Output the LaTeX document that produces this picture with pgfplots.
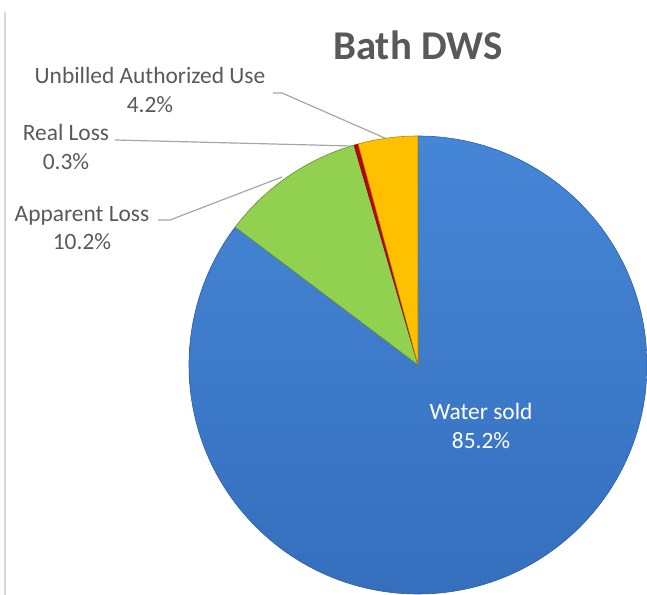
\documentclass[border=0pt]{standalone}
\usepackage{fontspec}
\setmainfont{Carlito}
\usepackage{pgfplots}
\usepackage{pgfplotstable}
\pgfplotsset{compat=1.18}

\definecolor{textgray}{HTML}{595959}
\definecolor{leadgray}{HTML}{A6A6A6}
\definecolor{framegray}{HTML}{D9D9D9}
\definecolor{blueT}{HTML}{4686D6}
\definecolor{blueB}{HTML}{356FBE}
\definecolor{greenc}{HTML}{92D050}
\definecolor{redc}{HTML}{C00000}
\definecolor{yellowc}{HTML}{FFC000}

% shares in clockwise order from 12 o'clock
\pgfplotstableread{
label     value
Water     85.2
Apparent  10.2
Real      0.3
Unbilled  4.2
}\piedata

\pgfplotstablegetelem{0}{value}\of\piedata \let\vA\pgfplotsretval
\pgfplotstablegetelem{1}{value}\of\piedata \let\vB\pgfplotsretval
\pgfplotstablegetelem{2}{value}\of\piedata \let\vC\pgfplotsretval
\pgfplotstablegetelem{3}{value}\of\piedata \let\vD\pgfplotsretval
\pgfmathsetmacro\tot{\vA+\vB+\vC+\vD}
\pgfmathsetmacro\aA{90}
\pgfmathsetmacro\aB{\aA-360*(\vA/\tot)}
\pgfmathsetmacro\aC{\aB-360*(\vB/\tot)}
\pgfmathsetmacro\aD{\aC-360*(\vC/\tot)}
\pgfmathsetmacro\aE{\aD-360*(\vD/\tot)}

\begin{document}
\begin{tikzpicture}
  \begin{axis}[
    scale only axis,
    width=647bp, height=595bp,
    xmin=0, xmax=647, ymin=0, ymax=595,
    hide axis,
    anchor=south west,
    at={(0,0)},
    ]
    % frame line on the left
    \draw[framegray, line width=1.2bp] (axis cs:5,0) -- (axis cs:5,583);

    % slices
    \shade[top color=blueT, bottom color=blueB, draw=blueB!85!black, line width=0.6bp]
      (axis cs:418,230) -- ++(\aA:229bp) arc[start angle=\aA, end angle=\aB, radius=229bp] -- cycle;
    \fill[greenc, draw=greenc!70!black, line width=0.6bp]
      (axis cs:418,230) -- ++(\aB:229bp) arc[start angle=\aB, end angle=\aC, radius=229bp] -- cycle;
    \fill[redc, draw=redc!70!black, line width=0.4bp]
      (axis cs:418,230) -- ++(\aC:229bp) arc[start angle=\aC, end angle=\aD, radius=229bp] -- cycle;
    \fill[yellowc, draw=yellowc!70!black, line width=0.6bp]
      (axis cs:418,230) -- ++(\aD:229bp) arc[start angle=\aD, end angle=\aE, radius=229bp] -- cycle;

    % leader lines
    \draw[leadgray, line width=1.2bp] (axis cs:273,502) -- (axis cs:282,502) -- (axis cs:387,456);
    \draw[leadgray, line width=1.2bp] (axis cs:115,455) -- (axis cs:352,449);
    \draw[leadgray, line width=1.2bp] (axis cs:158,375) -- (axis cs:170,375) -- (axis cs:282,418);

    % title
    \node[textgray, font=\fontsize{41}{48}\selectfont\bfseries] at (axis cs:418,550) {Bath DWS};

    % data labels
    \node[textgray, align=center, font=\fontsize{23.5}{28.5}\selectfont] at (axis cs:150,505) {Unbilled Authorized Use\\4.2\%};
    \node[textgray, align=center, font=\fontsize{23.5}{28.5}\selectfont] at (axis cs:66,448) {Real Loss\\0.3\%};
    \node[textgray, align=center, font=\fontsize{23.5}{28.5}\selectfont] at (axis cs:82,367) {Apparent Loss\\10.2\%};
    \node[white, align=center, font=\fontsize{23.5}{28.5}\selectfont] at (axis cs:481,169) {Water sold\\85.2\%};
  \end{axis}
  \pgfresetboundingbox
  \path[use as bounding box] (0,0) rectangle (647bp,595bp);
\end{tikzpicture}
\end{document}
